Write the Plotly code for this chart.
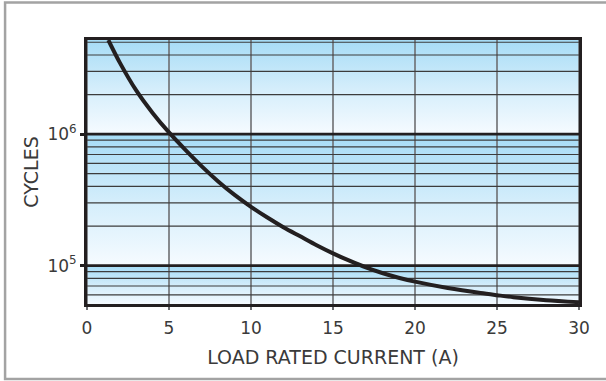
import plotly.graph_objects as go

# load rated current (A) vs. cycles
current = [1.3, 2, 3, 4, 5, 6, 7, 8, 9, 10, 11, 12, 13, 14, 15, 16, 17, 18, 19, 20, 22, 24, 25, 26, 28, 30]
cycles = [5.2e6, 3.5e6, 2.15e6, 1.45e6, 1.03e6, 7.59e5, 5.69e5, 4.37e5, 3.45e5, 2.8e5, 2.32e5, 1.95e5,
          1.67e5, 1.43e5, 1.24e5, 1.09e5, 9.7e4, 8.79e4, 8.09e4, 7.55e4, 6.76e4, 6.19e4, 5.96e4, 5.75e4,
          5.46e4, 5.27e4]

x_ticks = [0, 5, 10, 15, 20, 25, 30]
y_ticks = [1e5, 1e6]
y_tick_labels = ['10<sup>5</sup>', '10<sup>6</sup>']

minor_lines = [6e4, 7e4, 8e4, 9e4, 2e5, 3e5, 4e5, 5e5, 6e5, 7e5, 8e5, 9e5, 2e6, 3e6, 4e6, 5e6]
bands = [(5e4, 1e5), (1e5, 1e6), (1e6, 5.2e6)]

X_MIN, X_MAX = 0, 30
Y_LO, Y_HI = 5.1e4, 5.2e6

INK = '#231f20'
TEXT = '#3a3a3a'
FONT = 'DejaVu Sans'

fig = go.Figure()

# blue gradient bands, one per decade
for lo, hi in bands:
    fig.add_trace(go.Scatter(
        x=[X_MIN, X_MAX, X_MAX, X_MIN, X_MIN], y=[lo, lo, hi, hi, lo],
        mode='none', fill='toself',
        fillgradient=dict(type='vertical',
                          colorscale=[[0, '#f6fbff'], [0.5, '#d3edfb'], [1, '#a6dcf6']]),
        hoverinfo='skip', showlegend=False,
    ))


def hlines(values):
    xs, ys = [], []
    for v in values:
        xs += [X_MIN, X_MAX, None]
        ys += [v, v, None]
    return xs, ys


# vertical grid
vx, vy = [], []
for t in x_ticks:
    vx += [t, t, None]
    vy += [Y_LO, Y_HI, None]
fig.add_trace(go.Scatter(x=vx, y=vy, mode='lines', line=dict(color='#6d6e71', width=1.6),
                         hoverinfo='skip', showlegend=False))

mx, my = hlines(minor_lines)
fig.add_trace(go.Scatter(x=mx, y=my, mode='lines', line=dict(color='#3c3c3c', width=1.2),
                         hoverinfo='skip', showlegend=False))

jx, jy = hlines(y_ticks)
fig.add_trace(go.Scatter(x=jx, y=jy, mode='lines', line=dict(color=INK, width=2.8),
                         hoverinfo='skip', showlegend=False))

# the life curve
fig.add_trace(go.Scatter(x=current, y=cycles, mode='lines',
                         line=dict(color=INK, width=4, shape='spline', smoothing=0.8),
                         showlegend=False))

# outer grey frame
fig.add_shape(type='rect', xref='paper', yref='paper',
              x0=-0.1665, x1=1.063, y0=-0.284, y1=1.142,
              line=dict(color='#a3a3a3', width=2.5), fillcolor='rgba(0,0,0,0)', layer='below')

fig.update_layout(
    width=606, height=381,
    margin=dict(l=86.5, r=27, t=40, b=77),
    paper_bgcolor='white', plot_bgcolor='white',
    font=dict(family=FONT, color=TEXT, size=17),
    xaxis=dict(
        range=[X_MIN, X_MAX], tickvals=x_ticks, showgrid=False, zeroline=False, automargin=False,
        showline=True, mirror=True, linecolor=INK, linewidth=3,
        ticks='outside', ticklen=3, tickwidth=1.5, tickcolor='#6d6e71', ticklabelstandoff=4,
        tickfont=dict(size=17, family=FONT, color=TEXT),
        title=dict(text='LOAD RATED CURRENT (A)', font=dict(size=19, family=FONT, color=TEXT),
                   standoff=14),
    ),
    yaxis=dict(
        type='log', range=[4.708, 6.716], tickvals=y_ticks, ticktext=y_tick_labels,
        showgrid=False, zeroline=False, automargin=False,
        showline=True, mirror=True, linecolor=INK, linewidth=3,
        ticks='outside', ticklen=4, tickwidth=2.5, tickcolor=INK,
        tickfont=dict(size=17, family=FONT, color=TEXT),
        title=dict(text='CYCLES', font=dict(size=19, family=FONT, color=TEXT),
                   standoff=4),
    ),
)

fig.write_html('out.html', config={'displayModeBar': False},
               post_script="document.body.style.margin = '0';")
